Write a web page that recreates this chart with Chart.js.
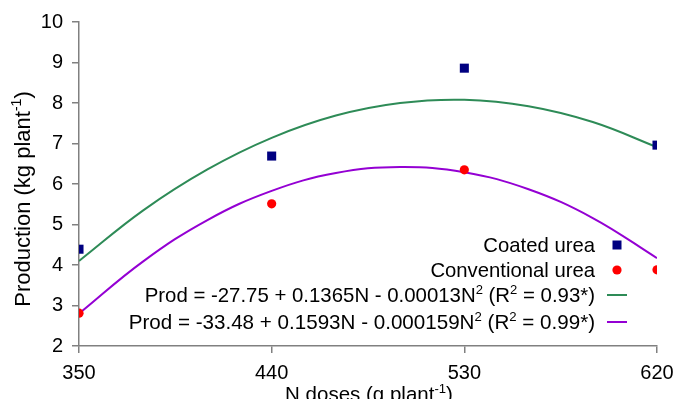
<!DOCTYPE html>
<html>
<head>
<meta charset="utf-8">
<script src="https://cdn.jsdelivr.net/npm/chart.js@4"></script>
<style>
  body { margin: 0; background: #fff; }
  #wrap { width: 677px; height: 399px; position: relative; }
</style>
</head>
<body>
<div id="wrap"><canvas id="prodChart"></canvas></div>
<script>
const doses = [350, 440, 530, 620];
const coatedYield = [4.39, 6.69, 8.86, 6.96];
const conventionalYield = [2.81, 5.51, 6.35, 3.88];

// fitted curves
const fitDoses = [350, 380, 410, 440, 470, 500, 530, 560, 590, 620];
const coatedFit = [4.1, 5.35, 6.36, 7.14, 7.69, 8.0, 8.08, 7.92, 7.53, 6.91];
const conventionalFit = [2.8, 4.09, 5.11, 5.83, 6.27, 6.42, 6.29, 5.87, 5.16, 4.17];

const xTicks = [350, 440, 530, 620];
const yTicks = [2, 3, 4, 5, 6, 7, 8, 9, 10];

const seriesNames = ["Coated urea", "Conventional urea"];
const coatedEq = [["Prod = -27.75 + 0.1365N - 0.00013N"], ["2", 1], [" (R"], ["2", 1], [" = 0.93*)"]];
const convEq = [["Prod = -33.48 + 0.1593N - 0.000159N"], ["2", 1], [" (R"], ["2", 1], [" = 0.99*)"]];

const FONT = '"Liberation Sans", Arial, sans-serif';
const toXY = (xs, ys) => xs.map((x, i) => ({ x: x, y: ys[i] }));

// draws text with superscript pieces, right aligned or centred at x
function richText(ctx, parts, x, y, size, align) {
  const widths = parts.map(([t, sup]) => {
    ctx.font = (sup ? size * 0.64 : size) + "px " + FONT;
    return ctx.measureText(t).width;
  });
  const total = widths.reduce((a, b) => a + b, 0);
  let cx = align === "right" ? x - total : x - total / 2;
  ctx.textAlign = "left";
  ctx.textBaseline = "alphabetic";
  parts.forEach(([t, sup], i) => {
    ctx.font = (sup ? size * 0.64 : size) + "px " + FONT;
    ctx.fillText(t, cx, sup ? y - size * 0.4 : y);
    cx += widths[i];
  });
}

const overlay = {
  id: "overlay",
  afterDraw(chart) {
    const ctx = chart.ctx;
    const ds = chart.data.datasets;
    ctx.save();
    ctx.fillStyle = "#000";

    // axis titles
    richText(ctx, [["N doses (g plant"], ["-1", 1], [")"]], 369, 401, 20.5, "center");
    ctx.save();
    ctx.translate(30, 199);
    ctx.rotate(-Math.PI / 2);
    richText(ctx, [["Production (kg plant"], ["-1", 1], [")"]], 0, 0, 22, "center");
    ctx.restore();

    // legend
    const tx = 595, mx = 617;
    richText(ctx, [[seriesNames[0]]], tx, 252, 20.3, "right");
    richText(ctx, [[seriesNames[1]]], tx, 277, 20.3, "right");
    richText(ctx, coatedEq, tx, 302, 20.4, "right");
    richText(ctx, convEq, tx, 329, 20.6, "right");

    ctx.fillStyle = ds[0].backgroundColor;
    ctx.fillRect(mx - 4.5, 245 - 4.5, 9, 9);
    ctx.fillStyle = ds[1].backgroundColor;
    ctx.beginPath();
    ctx.arc(mx, 270, 4.6, 0, Math.PI * 2);
    ctx.fill();
    ctx.lineWidth = 2;
    [[ds[2].borderColor, 295], [ds[3].borderColor, 322]].forEach(([c, y]) => {
      ctx.strokeStyle = c;
      ctx.beginPath();
      ctx.moveTo(607, y);
      ctx.lineTo(627, y);
      ctx.stroke();
    });
    ctx.restore();
  },
};

const axisGrid = { drawOnChartArea: false, drawTicks: true, tickLength: 7, color: "#808080", lineWidth: 1.5 };

new Chart(document.getElementById("prodChart"), {
  type: "scatter",
  data: {
    datasets: [
      {
        label: seriesNames[0],
        data: toXY(doses, coatedYield),
        pointStyle: "rect",
        pointRadius: 6.4,
        backgroundColor: "#000080",
        borderColor: "#000080",
        borderWidth: 0,
        order: 1,
      },
      {
        label: seriesNames[1],
        data: toXY(doses, conventionalYield),
        pointStyle: "circle",
        pointRadius: 4.6,
        backgroundColor: "#ff0000",
        borderColor: "#ff0000",
        borderWidth: 0,
        order: 1,
      },
      {
        label: "fit coated",
        data: toXY(fitDoses, coatedFit),
        showLine: true,
        pointRadius: 0,
        borderColor: "#2e8b57",
        borderWidth: 2,
        tension: 0.4,
        order: 2,
      },
      {
        label: "fit conventional",
        data: toXY(fitDoses, conventionalFit),
        showLine: true,
        pointRadius: 0,
        borderColor: "#9400d3",
        borderWidth: 2,
        tension: 0.4,
        order: 2,
      },
    ],
  },
  options: {
    responsive: true,
    maintainAspectRatio: false,
    animation: false,
    layout: { padding: { top: 22, right: 20, left: 0, bottom: 0 } },
    plugins: { legend: { display: false }, tooltip: { enabled: false } },
    scales: {
      x: {
        type: "linear",
        min: xTicks[0],
        max: xTicks[xTicks.length - 1],
        afterBuildTicks: (s) => { s.ticks = xTicks.map((v) => ({ value: v })); },
        afterFit: (s) => {
          s.height = 53;
          s.paddingLeft = 0;
          s.paddingRight = 0;
        },
        ticks: { color: "#000", padding: 8, maxRotation: 0, font: { family: FONT, size: 20 } },
        grid: axisGrid,
        border: { color: "#808080", width: 1.5 },
      },
      y: {
        min: yTicks[0],
        max: yTicks[yTicks.length - 1],
        afterBuildTicks: (s) => { s.ticks = yTicks.map((v) => ({ value: v })); },
        afterFit: (s) => { s.width = 79; },
        ticks: { color: "#000", padding: 9, font: { family: FONT, size: 20 } },
        grid: axisGrid,
        border: { color: "#808080", width: 1.5 },
      },
    },
  },
  plugins: [overlay],
});
</script>
</body>
</html>
